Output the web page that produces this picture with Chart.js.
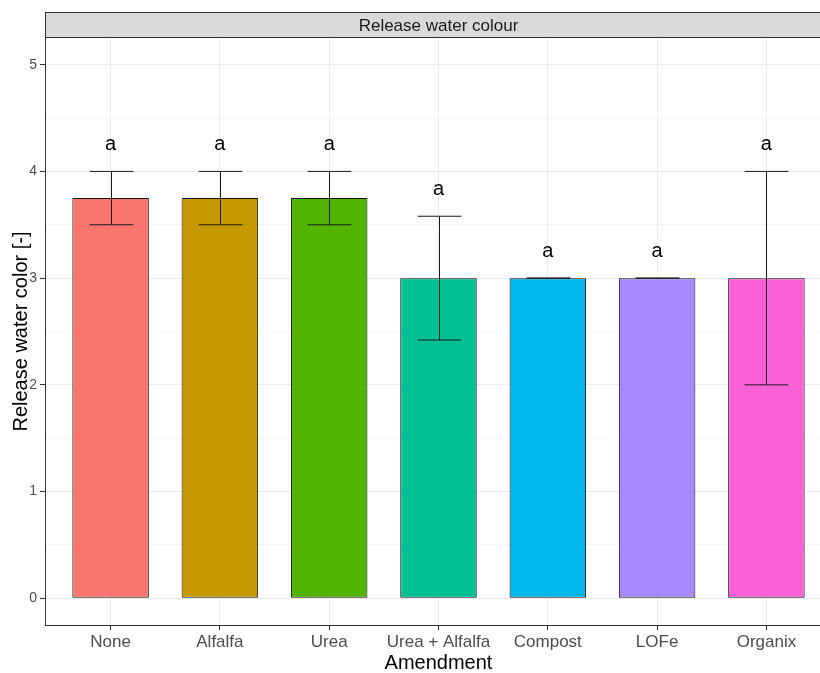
<!DOCTYPE html>
<html>
<head>
<meta charset="utf-8">
<script src="https://cdn.jsdelivr.net/npm/chart.js@4/dist/chart.umd.min.js"></script>
<style>
  html, body { margin: 0; padding: 0; overflow: hidden; background: #fff; }
  #wrap { width: 840px; height: 673px; }
</style>
</head>
<body>
<div id="wrap"><canvas id="bar_chart" width="840" height="673"></canvas></div>
<script>
// amendment categories and release water colour (mean, error bar ends, letters)
const categories = ['None', 'Alfalfa', 'Urea', 'Urea + Alfalfa', 'Compost', 'LOFe', 'Organix'];
const meanColor = [3.75, 3.75, 3.75, 3, 3, 3, 3];
const errLow = [3.5, 3.5, 3.5, 2.42, 3, 3, 2];
const errHigh = [4, 4, 4, 3.58, 3, 3, 4];
const letters = ['a', 'a', 'a', 'a', 'a', 'a', 'a'];
const yTicks = [0, 0.5, 1, 1.5, 2, 2.5, 3, 3.5, 4, 4.5, 5];
const barColors = ['#F8766D', '#C49A00', '#53B400', '#00C094', '#00B6EB', '#A58AFF', '#FB61D7'];

const FONT = '"Liberation Sans", Arial, sans-serif';

// strip on top of the panel, like facet_wrap
const stripPlugin = {
    id: 'strip',
    afterDraw(chart) {
        let ctx = chart.ctx;
        let area = chart.chartArea;
        let top = 12.5, bottom = 37.5;
        ctx.save();
        ctx.fillStyle = '#D9D9D9';
        ctx.fillRect(area.left, top, chart.width - area.left, bottom - top);
        ctx.strokeStyle = '#333333';
        ctx.lineWidth = 1;
        ctx.strokeRect(area.left + 0.5, top, chart.width, bottom - top);
        ctx.fillStyle = '#1A1A1A';
        ctx.font = '17px ' + FONT;
        ctx.textAlign = 'center';
        ctx.textBaseline = 'middle';
        ctx.fillText('Release water colour', (area.left + area.right) / 2, (top + bottom) / 2 + 1);
        ctx.restore();
    }
};

// error bars + significance letters
const errorPlugin = {
    id: 'errorBars',
    afterDatasetsDraw(chart) {
        let ctx = chart.ctx;
        let x = chart.scales.x;
        let y = chart.scales.y;
        ctx.save();
        ctx.strokeStyle = '#1A1A1A';
        ctx.lineWidth = 1;
        for (let i = 0; i < categories.length; i++) {
            let px = Math.round(x.getPixelForValue(i + 1)) + 0.5;
            let half = x.getPixelForValue(i + 1.2) - x.getPixelForValue(i + 1);
            let top = y.getPixelForValue(errHigh[i]);
            let bot = y.getPixelForValue(errLow[i]);
            ctx.beginPath();
            ctx.moveTo(px, top); ctx.lineTo(px, bot);
            ctx.moveTo(px - half, top); ctx.lineTo(px + half, top);
            ctx.moveTo(px - half, bot); ctx.lineTo(px + half, bot);
            ctx.stroke();
        }
        ctx.fillStyle = '#000';
        ctx.font = '20px ' + FONT;
        ctx.textAlign = 'center';
        ctx.textBaseline = 'middle';
        for (let i = 0; i < categories.length; i++) {
            let px = x.getPixelForValue(i + 1);
            let py = y.getPixelForValue(errHigh[i] + 0.25);
            ctx.fillText(letters[i], px, py);
        }
        ctx.restore();
    }
};

let data = {
    datasets: [{
        data: categories.map((c, i) => ({x: i + 1, y: meanColor[i]})),
        backgroundColor: barColors,
        borderColor: '#111111',
        borderWidth: 1,
        borderSkipped: false,
        barPercentage: 0.7,
        categoryPercentage: 1
    }]
};

let config = {
    type: 'bar',
    data: data,
    plugins: [stripPlugin, errorPlugin],
    options: {
        responsive: false,
        animation: false,
        devicePixelRatio: 1,
        layout: {padding: {left: 0, top: 38, right: 8, bottom: 0}},
        plugins: {legend: {display: false}, tooltip: {enabled: false}},
        scales: {
            x: {
                type: 'linear',
                offset: false,
                min: 0.4,
                max: 7.6,
                afterBuildTicks: (scale) => { scale.ticks = categories.map((c, i) => ({value: i + 1})); },
                afterFit: (scale) => { scale.height = 48; },
                grid: {color: '#EBEBEB', lineWidth: 1, offset: false, tickColor: '#333333', tickLength: 5},
                border: {display: true, color: '#333333', width: 1},
                ticks: {
                    color: '#4D4D4D',
                    font: {family: FONT, size: 17},
                    padding: 2,
                    maxRotation: 0,
                    autoSkip: false,
                    callback: (v) => categories[v - 1]
                },
                title: {
                    display: true, text: 'Amendment', color: '#000',
                    font: {family: FONT, size: 20, lineHeight: 1.0}, padding: {top: 0, bottom: 0}
                }
            },
            y: {
                min: -0.25,
                max: 5.25,
                afterBuildTicks: (scale) => { scale.ticks = yTicks.map(v => ({value: v})); },
                afterFit: (scale) => { scale.width = 45; },
                grid: {
                    color: (c) => Number.isInteger(c.tick.value) ? '#EBEBEB' : '#F3F3F3',
                    lineWidth: (c) => Number.isInteger(c.tick.value) ? 1 : 0.8,
                    tickColor: (c) => Number.isInteger(c.tick.value) ? '#333333' : 'rgba(0,0,0,0)',
                    tickLength: 5
                },
                border: {display: true, color: '#333333', width: 1},
                ticks: {
                    color: '#4D4D4D',
                    font: {family: FONT, size: 14},
                    padding: 3,
                    autoSkip: false,
                    callback: (v) => Number.isInteger(v) ? String(v) : ''
                },
                title: {
                    display: true, text: 'Release water color [-]', color: '#000',
                    font: {family: FONT, size: 20, lineHeight: 1.0}, padding: {top: 11, bottom: 0}
                }
            }
        }
    }
};

let bar_chart = new Chart(document.getElementById('bar_chart'), config);
</script>
</body>
</html>
